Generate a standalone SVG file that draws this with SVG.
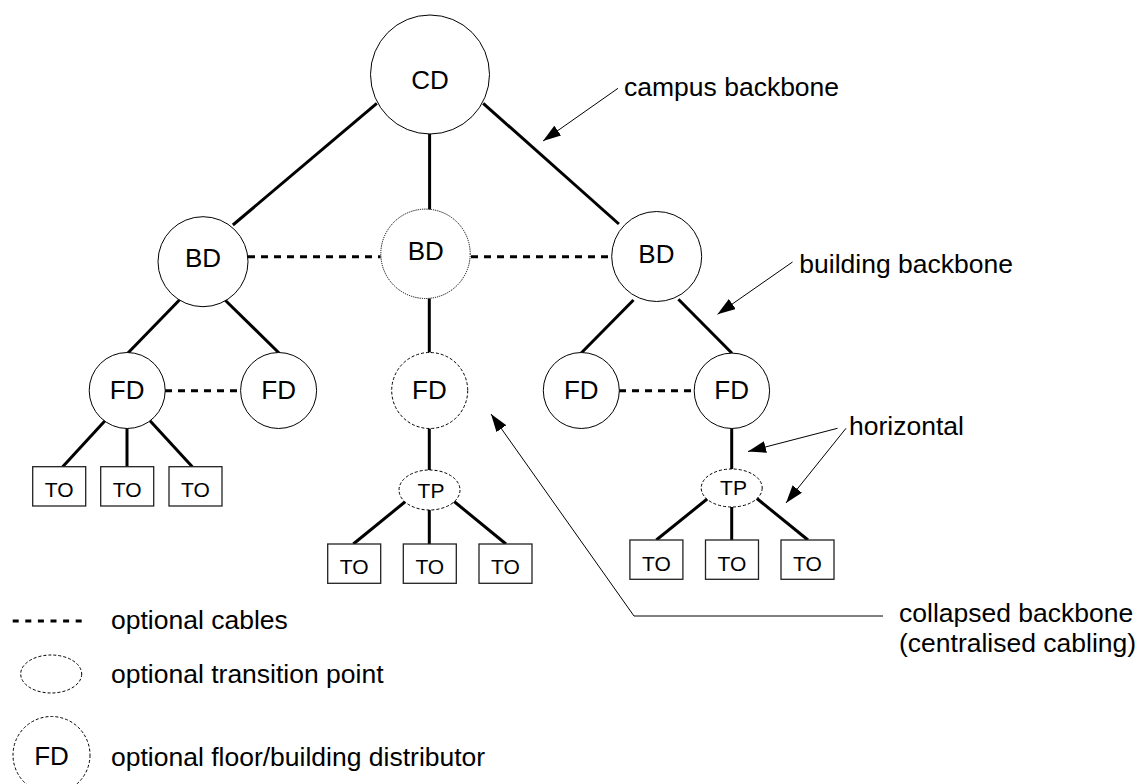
<svg xmlns="http://www.w3.org/2000/svg" width="1138" height="784" viewBox="0 0 1138 784">
  <style>
    .node { fill: #fff; stroke: #000; stroke-width: 1; }
    .opt-bd { fill: #fff; stroke: #000; stroke-width: 1; stroke-dasharray: 1.2 1; }
    .opt { fill: #fff; stroke: #000; stroke-width: 1; stroke-dasharray: 3 2; }
    .box { fill: #fff; stroke: #222; stroke-width: 1.3; }
    .cable { stroke: #000; stroke-width: 3; fill: none; }
    .optcable { stroke: #000; stroke-width: 3; fill: none; stroke-dasharray: 7 6; }
    .pointer { stroke: #000; stroke-width: 1; fill: none; marker-end: url(#head); }
    .lbl { font-family: "Liberation Sans", Arial, sans-serif; font-size: 26px; fill: #000; text-anchor: middle; }
    .small { font-family: "Liberation Sans", Arial, sans-serif; font-size: 21px; fill: #000; text-anchor: middle; }
    .note { font-family: "Liberation Sans", Arial, sans-serif; font-size: 26.5px; fill: #000; }
  </style>
  <defs>
    <marker id="head" viewBox="0 0 18 12" refX="18" refY="6" markerWidth="18" markerHeight="12" markerUnits="userSpaceOnUse" orient="auto">
      <path d="M0,0 L18,6 L0,12 z" fill="#000"/>
    </marker>
  </defs>

  <rect width="1138" height="784" fill="#fff"/>

  <!-- cabling between distributors -->
  <g id="connectors">
    <line class="cable" x1="376.8" y1="103.3" x2="232.9" y2="225"/>
    <line class="cable" x1="429.6" y1="133" x2="429.6" y2="210"/>
    <line class="cable" x1="483.2" y1="103.3" x2="618.9" y2="224"/>

    <line class="optcable" x1="248" y1="256.7" x2="380.5" y2="256.7"/>
    <line class="optcable" x1="471" y1="256.7" x2="611.5" y2="256.7"/>

    <line class="cable" x1="180.4" y1="299" x2="127.7" y2="353.3"/>
    <line class="cable" x1="225" y1="300" x2="279.3" y2="353.3"/>
    <line class="cable" x1="429.3" y1="298.5" x2="429.3" y2="352.7"/>
    <line class="cable" x1="633.5" y1="300" x2="581" y2="353.3"/>
    <line class="cable" x1="678.4" y1="299.3" x2="732" y2="353.3"/>

    <line class="optcable" x1="165" y1="390.7" x2="240.5" y2="390.7"/>
    <line class="optcable" x1="619" y1="390.7" x2="694" y2="390.7"/>

    <line class="cable" x1="105" y1="420.7" x2="62.7" y2="466.7"/>
    <line class="cable" x1="127" y1="428.5" x2="127" y2="466.7"/>
    <line class="cable" x1="150" y1="420.7" x2="192.3" y2="466.7"/>

    <line class="cable" x1="429.3" y1="428.3" x2="429.3" y2="470"/>
    <line class="cable" x1="407.3" y1="500" x2="353.3" y2="544"/>
    <line class="cable" x1="429.3" y1="510" x2="429.3" y2="544"/>
    <line class="cable" x1="452.3" y1="500" x2="506" y2="544"/>

    <line class="cable" x1="731.7" y1="428.5" x2="731.7" y2="469"/>
    <line class="cable" x1="709.6" y1="497" x2="656.3" y2="540"/>
    <line class="cable" x1="731.7" y1="507" x2="731.7" y2="540"/>
    <line class="cable" x1="755" y1="497" x2="808" y2="540"/>
  </g>

  <!-- distributors -->
  <g id="cd">
    <circle class="node" cx="430" cy="74.5" r="59.5"/>
    <text class="lbl" x="430" y="89">CD</text>
  </g>
  <g id="bd-left">
    <circle class="node" cx="203" cy="261.7" r="45"/>
    <text class="lbl" x="203" y="266.7">BD</text>
  </g>
  <g id="bd-middle">
    <circle class="opt-bd" cx="425.5" cy="253.8" r="44.7"/>
    <text class="lbl" x="425.7" y="260">BD</text>
  </g>
  <g id="bd-right">
    <circle class="node" cx="656.7" cy="256.5" r="45"/>
    <text class="lbl" x="656.4" y="262.5">BD</text>
  </g>

  <g id="fd-1">
    <circle class="node" cx="127.2" cy="390.5" r="38"/>
    <text class="lbl" x="127.2" y="399.3">FD</text>
  </g>
  <g id="fd-2">
    <circle class="node" cx="278.6" cy="390.5" r="38"/>
    <text class="lbl" x="278.6" y="399.3">FD</text>
  </g>
  <g id="fd-middle">
    <circle class="opt" cx="429.7" cy="390.5" r="38"/>
    <text class="lbl" x="429.4" y="399.2">FD</text>
  </g>
  <g id="fd-3">
    <circle class="node" cx="581.3" cy="390.5" r="38"/>
    <text class="lbl" x="581.3" y="399.2">FD</text>
  </g>
  <g id="fd-4">
    <circle class="node" cx="731.9" cy="390.8" r="37.7"/>
    <text class="lbl" x="731.6" y="399.2">FD</text>
  </g>

  <!-- transition points -->
  <g id="tp-middle">
    <ellipse class="opt" cx="429.5" cy="490" rx="30.5" ry="20"/>
    <text class="small" x="431" y="497.5">TP</text>
  </g>
  <g id="tp-right">
    <ellipse class="opt" cx="731.7" cy="488" rx="30.5" ry="19"/>
    <text class="small" x="733.5" y="495.3">TP</text>
  </g>

  <!-- telecommunications outlets -->
  <g id="to-left-1"><rect class="box" x="32.7" y="466.7" width="53" height="39.3"/><text class="small" x="59.2" y="497.3">TO</text></g>
  <g id="to-left-2"><rect class="box" x="100.7" y="466.7" width="53" height="39.3"/><text class="small" x="127.2" y="497.3">TO</text></g>
  <g id="to-left-3"><rect class="box" x="169" y="466.7" width="53" height="39.3"/><text class="small" x="195.5" y="497.3">TO</text></g>

  <g id="to-middle-1"><rect class="box" x="327.7" y="544" width="53" height="39.3"/><text class="small" x="354.2" y="574">TO</text></g>
  <g id="to-middle-2"><rect class="box" x="403.3" y="544" width="53" height="39.3"/><text class="small" x="429.8" y="574">TO</text></g>
  <g id="to-middle-3"><rect class="box" x="479" y="544" width="53" height="39.3"/><text class="small" x="505.5" y="574">TO</text></g>

  <g id="to-right-1"><rect class="box" x="629.9" y="540" width="53" height="39.3"/><text class="small" x="656.4" y="570.5">TO</text></g>
  <g id="to-right-2"><rect class="box" x="705.5" y="540" width="53" height="39.3"/><text class="small" x="732" y="570.5">TO</text></g>
  <g id="to-right-3"><rect class="box" x="781" y="540" width="53" height="39.3"/><text class="small" x="807.5" y="570.5">TO</text></g>

  <!-- callouts -->
  <g id="callouts">
    <line class="pointer" x1="618" y1="88.3" x2="543" y2="141"/>
    <text class="note" x="624" y="96">campus backbone</text>

    <line class="pointer" x1="792.5" y1="262" x2="717.5" y2="314.3"/>
    <text class="note" x="799.3" y="273.3">building backbone</text>

    <line class="pointer" x1="837.5" y1="428.3" x2="748" y2="451.5"/>
    <line class="pointer" x1="846" y1="428.3" x2="786" y2="503"/>
    <text class="note" x="849" y="435">horizontal</text>

    <polyline class="pointer" points="883,616 634,616 491,414"/>
    <text class="note" x="899" y="622">collapsed backbone</text>
    <text class="note" x="899" y="651.8">(centralised cabling)</text>
  </g>

  <!-- legend -->
  <g id="legend">
    <line class="optcable" x1="12.7" y1="621" x2="81.7" y2="621" style="stroke-dasharray:6 6.6"/>
    <text class="note" x="111" y="629">optional cables</text>

    <ellipse class="opt" cx="51.2" cy="674" rx="30.5" ry="19"/>
    <text class="note" x="111" y="683">optional transition point</text>

    <circle class="opt" cx="51.5" cy="755" r="38.5"/>
    <text class="lbl" x="51.5" y="765">FD</text>
    <text class="note" x="111" y="766">optional floor/building distributor</text>
  </g>
</svg>
